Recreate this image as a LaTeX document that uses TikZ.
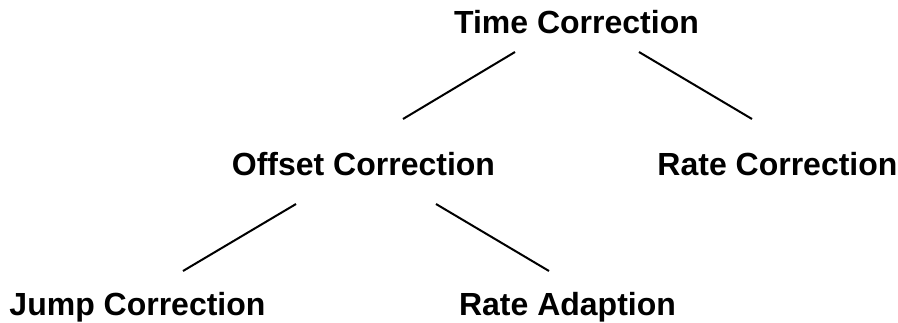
\documentclass[tikz,border=0pt]{standalone}
\usepackage{fontspec}
\setmainfont{Liberation Sans}
\begin{document}
\begin{tikzpicture}[x=1pt,y=-1pt,
  lbl/.style={anchor=base,inner sep=0pt,font=\fontsize{32}{38}\selectfont\bfseries},
  edge/.style={draw=black,line width=2pt}]
\useasboundingbox (0,0) rectangle (898,322);
\node[lbl] (tc) at (576.5,33) {Time Correction};
\node[lbl] (oc) at (363.5,175) {Offset Correction};
\node[lbl] (rc) at (777.5,175) {Rate Correction};
\node[lbl] (jc) at (137.5,315) {Jump Correction};
\node[lbl] (ra) at (567.5,315) {Rate Adaption};
\coordinate (tcL) at (515,52);
\coordinate (ocT) at (403,119);
\coordinate (tcR) at (639,52);
\coordinate (rcT) at (752,119);
\coordinate (ocL) at (296,204);
\coordinate (jcT) at (183,271);
\coordinate (ocR) at (436,204);
\coordinate (raT) at (549,271);
\draw[edge] (tcL) -- (ocT);
\draw[edge] (tcR) -- (rcT);
\draw[edge] (ocL) -- (jcT);
\draw[edge] (ocR) -- (raT);
\end{tikzpicture}
\end{document}
